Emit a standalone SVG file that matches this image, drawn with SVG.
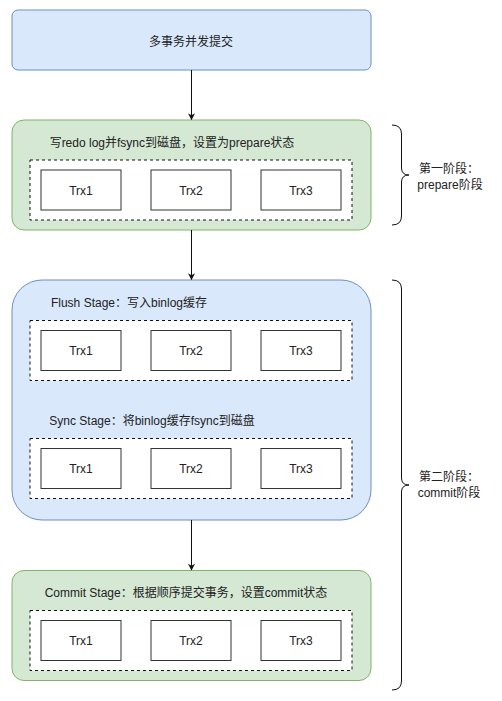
<svg xmlns="http://www.w3.org/2000/svg" width="502" height="701" viewBox="0 0 502 701">
<defs>
<style>
text{font-family:"Liberation Sans","Noto Sans CJK SC",sans-serif;font-size:12px;fill:#222;text-anchor:middle}
.blue{fill:#dae8fc;stroke:#6c8ebf;stroke-width:1}
.green{fill:#d5e8d4;stroke:#82b366;stroke-width:1}
.dash{fill:#fff;stroke:#111;stroke-width:1;stroke-dasharray:3 3}
.trx{fill:#fff;stroke:#333;stroke-width:1}
.conn{fill:none;stroke:#111;stroke-width:1}
.brace{fill:none;stroke:#111;stroke-width:1}
</style>
<marker id="arr" viewBox="0 0 10 10" refX="9" refY="5" markerWidth="7" markerHeight="7" orient="auto" markerUnits="userSpaceOnUse">
<path d="M0,0 L10,5 L0,10 L3,5 Z" fill="#111"/>
</marker>
</defs>
<rect width="502" height="701" fill="#fff"/>

<g id="start">
<rect class="blue" x="12" y="10" width="359" height="60" rx="6"/>
<text x="191" y="46">多事务并发提交</text>
</g>

<g id="prepare">
<rect class="green" x="12" y="120" width="359" height="110" rx="12"/>
<text x="172" y="147">写redo log并fsync到磁盘，设置为prepare状态</text>
<rect class="dash" x="30" y="160" width="322" height="60"/>
<g id="prepare-trx1"><rect class="trx" x="41" y="170" width="80" height="40"/><text x="81" y="195">Trx1</text></g>
<g id="prepare-trx2"><rect class="trx" x="151" y="170" width="80" height="40"/><text x="191" y="195">Trx2</text></g>
<g id="prepare-trx3"><rect class="trx" x="261" y="170" width="80" height="40"/><text x="301" y="195">Trx3</text></g>
</g>

<g id="binlog">
<rect class="blue" x="12" y="280" width="359" height="240" rx="30"/>
<text x="129" y="307">Flush Stage：写入binlog缓存</text>
<rect class="dash" x="30" y="320.5" width="322" height="60"/>
<g id="flush-trx1"><rect class="trx" x="41" y="330.5" width="80" height="40"/><text x="81" y="355">Trx1</text></g>
<g id="flush-trx2"><rect class="trx" x="151" y="330.5" width="80" height="40"/><text x="191" y="355">Trx2</text></g>
<g id="flush-trx3"><rect class="trx" x="261" y="330.5" width="80" height="40"/><text x="301" y="355">Trx3</text></g>
<text x="152" y="425">Sync Stage：将binlog缓存fsync到磁盘</text>
<rect class="dash" x="30" y="438.5" width="322" height="60"/>
<g id="sync-trx1"><rect class="trx" x="41" y="448.5" width="80" height="40"/><text x="81" y="473">Trx1</text></g>
<g id="sync-trx2"><rect class="trx" x="151" y="448.5" width="80" height="40"/><text x="191" y="473">Trx2</text></g>
<g id="sync-trx3"><rect class="trx" x="261" y="448.5" width="80" height="40"/><text x="301" y="473">Trx3</text></g>
</g>

<g id="commit">
<rect class="green" x="12" y="570.5" width="359" height="110" rx="12"/>
<text x="186" y="596.5">Commit Stage：根据顺序提交事务，设置commit状态</text>
<rect class="dash" x="30" y="610.5" width="322" height="60"/>
<g id="commit-trx1"><rect class="trx" x="41" y="620.5" width="80" height="40"/><text x="81" y="645">Trx1</text></g>
<g id="commit-trx2"><rect class="trx" x="151" y="620.5" width="80" height="40"/><text x="191" y="645">Trx2</text></g>
<g id="commit-trx3"><rect class="trx" x="261" y="620.5" width="80" height="40"/><text x="301" y="645">Trx3</text></g>
</g>

<g id="phase1">
<path class="brace" d="M392,125 Q401.5,125 401.5,134 L401.5,168 Q401.5,175 409,175 Q401.5,175 401.5,182 L401.5,216 Q401.5,225 392,225"/>
<text x="449" y="173">第一阶段：</text>
<text x="450" y="189">prepare阶段</text>
</g>

<g id="phase2">
<path class="brace" d="M392,280 Q401.5,280 401.5,289 L401.5,478 Q401.5,485 409,485 Q401.5,485 401.5,492 L401.5,681 Q401.5,690 392,690"/>
<text x="449" y="481">第二阶段：</text>
<text x="449" y="497">commit阶段</text>
</g>

<g id="connectors">
<path class="conn" d="M191.5,70 L191.5,119.5" marker-end="url(#arr)"/>
<path class="conn" d="M191.5,230 L191.5,279.5" marker-end="url(#arr)"/>
<path class="conn" d="M191.5,520 L191.5,570" marker-end="url(#arr)"/>
</g>
</svg>
